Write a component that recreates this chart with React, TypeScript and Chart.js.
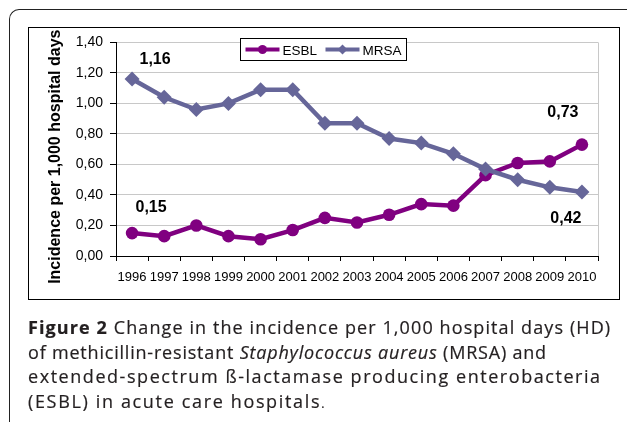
import React, { useEffect, useRef } from 'react';
import { Chart, registerables } from 'chart.js';

Chart.register(...registerables);

// ---------- data ----------
const years = ['1996', '1997', '1998', '1999', '2000', '2001', '2002', '2003', '2004', '2005', '2006', '2007', '2008', '2009', '2010'];
const esblValues = [0.15, 0.13, 0.20, 0.13, 0.11, 0.17, 0.25, 0.22, 0.27, 0.34, 0.33, 0.53, 0.61, 0.62, 0.73];
const mrsaValues = [1.16, 1.04, 0.96, 1.00, 1.09, 1.09, 0.87, 0.87, 0.77, 0.74, 0.67, 0.57, 0.50, 0.45, 0.42];
const seriesNames = ['ESBL', 'MRSA'];
const yMin = 0;
const yMax = 1.4;
const yStep = 0.2;
const yTitle = 'Incidence per 1,000 hospital days';
// annotated points: [series index, point index]
const annotatedPoints = [[1, 0], [0, 0], [0, 14], [1, 14]];
const captionBold = 'Figure 2';
const captionLine1 = ' Change in the incidence per 1,000 hospital days (HD)';
const captionLine2a = 'of methicillin-resistant ';
const captionItalic = 'Staphylococcus aureus';
const captionLine2b = ' (MRSA) and';
const captionLine3 = 'extended-spectrum ß-lactamase producing enterobacteria';
const captionLine4 = '(ESBL) in acute care hospitals';

// ---------- styles ----------
const FONT = "'Liberation Sans', Arial, sans-serif";
const ESBL_COLOR = '#800080';
const MRSA_COLOR = '#666699';
const GRID_COLOR = '#c8c8c8';
const labelOffsets = [
  { dx: 23, dy: -19 },
  { dx: 19, dy: -26 },
  { dx: -19, dy: -32 },
  { dx: -16, dy: 27 },
];

const fmt = (v: number) => v.toFixed(2).replace('.', ',');

const decorPlugin = {
  id: 'decor',
  beforeDatasetsDraw(chart: any) {
    const { ctx, chartArea } = chart;
    ctx.save();
    ctx.strokeStyle = GRID_COLOR;
    ctx.lineWidth = 1;
    ctx.beginPath();
    const x = Math.round(chartArea.right) + 0.5;
    ctx.moveTo(x, chartArea.top);
    ctx.lineTo(x, chartArea.bottom);
    ctx.stroke();
    ctx.restore();
  },
  afterDatasetsDraw(chart: any) {
    const { ctx } = chart;
    ctx.save();
    // point value labels
    ctx.font = `bold 16px ${FONT}`;
    ctx.fillStyle = '#000';
    ctx.textAlign = 'center';
    ctx.textBaseline = 'middle';
    annotatedPoints.forEach(([s, i], k) => {
      const el = chart.getDatasetMeta(s).data[i];
      const v = chart.data.datasets[s].data[i] as number;
      ctx.fillText(fmt(v), el.x + labelOffsets[k].dx, el.y + labelOffsets[k].dy);
    });

    // legend
    const bx = 212.5, by = 11.5, bw = 166, bh = 22;
    ctx.fillStyle = '#fff';
    ctx.fillRect(bx, by, bw, bh);
    ctx.strokeStyle = '#000';
    ctx.lineWidth = 1;
    ctx.strokeRect(bx, by, bw, bh);
    const ly = 22.5;
    const items = [
      { name: seriesNames[0], color: ESBL_COLOR, x0: 217.5, shape: 'circle' },
      { name: seriesNames[1], color: MRSA_COLOR, x0: 297.5, shape: 'diamond' },
    ];
    items.forEach((it) => {
      ctx.strokeStyle = it.color;
      ctx.fillStyle = it.color;
      ctx.lineWidth = 4;
      ctx.beginPath();
      ctx.moveTo(it.x0, ly);
      ctx.lineTo(it.x0 + 34, ly);
      ctx.stroke();
      const cx = it.x0 + 17;
      ctx.beginPath();
      if (it.shape === 'circle') {
        ctx.arc(cx, ly, 4.5, 0, Math.PI * 2);
      } else {
        ctx.moveTo(cx - 5, ly);
        ctx.lineTo(cx, ly - 5);
        ctx.lineTo(cx + 5, ly);
        ctx.lineTo(cx, ly + 5);
        ctx.closePath();
      }
      ctx.fill();
      ctx.fillStyle = '#000';
      ctx.font = `13.5px ${FONT}`;
      ctx.textAlign = 'left';
      ctx.textBaseline = 'alphabetic';
      ctx.fillText(it.name, it.x0 + 37, 28);
    });

    // y axis title
    const yScale = chart.scales.y;
    ctx.translate(32, (yScale.top + yScale.bottom) / 2 + 7.5);
    ctx.rotate(-Math.PI / 2);
    ctx.font = `bold 16px ${FONT}`;
    ctx.fillStyle = '#000';
    ctx.textAlign = 'center';
    ctx.textBaseline = 'alphabetic';
    ctx.fillText(yTitle, 0, 0);
    ctx.restore();
  },
};

const lineStyle = (ls: number): React.CSSProperties => ({ letterSpacing: `${ls}px`, height: 24.5 });

export default function App() {
  const ref = useRef<HTMLCanvasElement>(null);

  useEffect(() => {
    if (!ref.current) return;
    const chart = new Chart(ref.current, {
      type: 'line',
      data: {
        labels: years,
        datasets: [
          {
            label: seriesNames[0],
            data: esblValues,
            borderColor: ESBL_COLOR,
            backgroundColor: ESBL_COLOR,
            borderWidth: 4.5,
            pointStyle: 'circle',
            pointRadius: 6.3,
            pointBorderWidth: 0,
            pointBackgroundColor: ESBL_COLOR,
            tension: 0,
            order: 1,
          },
          {
            label: seriesNames[1],
            data: mrsaValues,
            borderColor: MRSA_COLOR,
            backgroundColor: MRSA_COLOR,
            borderWidth: 4.5,
            pointStyle: 'rectRot',
            pointRadius: 7.5,
            pointBorderWidth: 0,
            pointBackgroundColor: MRSA_COLOR,
            tension: 0,
            order: 0,
          },
        ],
      },
      options: {
        responsive: false,
        animation: false,
        layout: { padding: { left: 0, right: 22, top: 13, bottom: 0 } },
        plugins: { legend: { display: false }, tooltip: { enabled: false } },
        scales: {
          x: {
            type: 'category',
            offset: true,
            grid: {
              offset: true,
              drawOnChartArea: false,
              drawTicks: true,
              tickLength: 5,
              tickColor: '#000',
              tickWidth: 1,
            },
            border: { color: '#000', width: 1 },
            ticks: {
              font: { family: FONT, size: 13 },
              color: '#000',
              padding: 9,
              maxRotation: 0,
              minRotation: 0,
              autoSkip: false,
            },
            afterFit: (s: any) => {
              s.height = 44;
            },
          },
          y: {
            min: yMin,
            max: yMax,
            ticks: {
              stepSize: yStep,
              callback: (v: any) => fmt(Number(v)),
              font: { family: FONT, size: 14 },
              color: '#000',
              padding: 7,
            },
            grid: {
              color: (c: any) => (c.tick && Math.abs(c.tick.value) < 1e-9 ? '#000' : GRID_COLOR),
              tickColor: '#000',
              tickLength: 6,
              lineWidth: 1,
            },
            border: { color: '#000', width: 1 },
            afterFit: (s: any) => {
              s.width = 88;
            },
          },
        },
      },
      plugins: [decorPlugin],
    });
    return () => chart.destroy();
  }, []);

  return (
    <div style={{ position: 'absolute', left: 0, top: 0, width: 627, height: 422, overflow: 'hidden', background: '#fff' }}>
      <div
        style={{
          position: 'absolute',
          left: 9,
          top: 9,
          width: 700,
          height: 500,
          borderTop: '1.5px solid #222',
          borderLeft: '1.5px solid #222',
          borderTopLeftRadius: 10,
        }}
      />
      <canvas
        ref={ref}
        width={592}
        height={273}
        style={{ position: 'absolute', left: 28, top: 27, width: 592, height: 273 }}
      />
      <div
        style={{
          position: 'absolute',
          left: 28,
          top: 27,
          width: 592,
          height: 273,
          boxSizing: 'border-box',
          border: '1px solid #000',
        }}
      />
      <div
        style={{
          position: 'absolute',
          left: 28,
          top: 315,
          fontFamily: "'Open Sans', sans-serif",
          fontSize: 18,
          lineHeight: '24.5px',
          color: '#231f20',
          whiteSpace: 'nowrap',
          WebkitTextStroke: '0.2px #231f20',
        }}
      >
        <div style={lineStyle(1.1)}>
          <b>{captionBold}</b>
          {captionLine1}
        </div>
        <div style={lineStyle(0.8)}>
          {captionLine2a}
          <i>{captionItalic}</i>
          {captionLine2b}
        </div>
        <div style={lineStyle(1.55)}>{captionLine3}</div>
        <div style={lineStyle(1.65)}>
          {captionLine4}
          <span style={{ fontSize: 12, letterSpacing: 0 }}>.</span>
        </div>
      </div>
    </div>
  );
}
